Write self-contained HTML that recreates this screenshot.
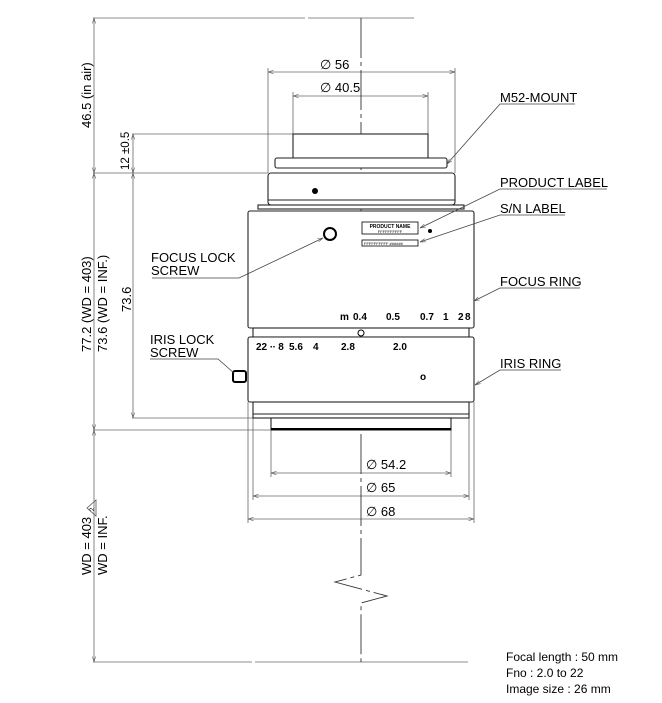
<!DOCTYPE html>
<html><head><style>
body{margin:0;background:#fff}
svg{display:block}
text{font-family:"Liberation Sans",Arial,sans-serif;fill:#000}
</style></head><body>
<svg width="662" height="703" viewBox="0 0 662 703" xmlns="http://www.w3.org/2000/svg">
<defs>
<marker id="a" viewBox="0 0 10 10" refX="10" refY="5" markerWidth="7" markerHeight="7" orient="auto-start-reverse"><path d="M0,2 L10,5 L0,8" fill="none" stroke="#555" stroke-width="1"/></marker>
</defs>
<g stroke="#666" stroke-width="0.8" fill="none">
<line x1="93" y1="18" x2="305" y2="18"/><line x1="308" y1="18" x2="414" y2="18"/>
<line x1="93" y1="662" x2="252" y2="662"/><line x1="255" y1="662" x2="468" y2="662"/>
<line x1="93" y1="173" x2="268" y2="173"/>
<line x1="93" y1="430" x2="270" y2="430"/>
<line x1="132" y1="134" x2="293" y2="134"/>
<line x1="132" y1="418" x2="253" y2="418"/>
<line x1="94" y1="18" x2="94" y2="173" marker-start="url(#a)" marker-end="url(#a)"/>
<line x1="94" y1="173" x2="94" y2="430" marker-start="url(#a)" marker-end="url(#a)"/>
<line x1="94" y1="430" x2="94" y2="662" marker-start="url(#a)" marker-end="url(#a)"/>
<line x1="133" y1="134" x2="133" y2="173" marker-start="url(#a)" marker-end="url(#a)"/>
<line x1="133" y1="173" x2="133" y2="418" marker-start="url(#a)" marker-end="url(#a)"/>
<line x1="268" y1="68" x2="268" y2="173"/><line x1="455" y1="68" x2="455" y2="173"/>
<line x1="293" y1="92" x2="293" y2="134"/><line x1="428" y1="92" x2="428" y2="134"/>
<line x1="271" y1="430" x2="271" y2="477"/><line x1="451" y1="430" x2="451" y2="477"/>
<line x1="253" y1="402" x2="253" y2="500"/><line x1="469" y1="402" x2="469" y2="500"/>
<line x1="248" y1="402" x2="248" y2="523"/><line x1="474" y1="402" x2="474" y2="523"/>
<line x1="268" y1="72" x2="455" y2="72" marker-start="url(#a)" marker-end="url(#a)"/>
<line x1="293" y1="96" x2="428" y2="96" marker-start="url(#a)" marker-end="url(#a)"/>
<line x1="271" y1="473" x2="451" y2="473" marker-start="url(#a)" marker-end="url(#a)"/>
<line x1="253" y1="496" x2="469" y2="496" marker-start="url(#a)" marker-end="url(#a)"/>
<line x1="248" y1="519" x2="474" y2="519" marker-start="url(#a)" marker-end="url(#a)"/>
</g>
<g stroke="#333" stroke-width="0.9" fill="none">
<path d="M361,18 V575 L335,582 L387,596 L361,603 V662" stroke-dasharray="40,4,4,4"/>
</g>
<g stroke="#222" stroke-width="1.1" fill="#fff">
<rect x="293" y="134" width="135" height="24"/>
<rect x="275" y="158" width="172" height="10" rx="2"/>
<rect x="268" y="173" width="187" height="32" rx="3"/>
<rect x="258" y="205" width="206" height="4"/>
<rect x="248" y="211" width="226" height="117" rx="2"/>
<rect x="253" y="328" width="216" height="9"/>
<rect x="248" y="337" width="226" height="65" rx="2"/>
<rect x="253" y="402" width="216" height="16"/>
<rect x="271" y="418" width="180" height="12"/>
</g>
<line x1="271" y1="429" x2="451" y2="429" stroke="#000" stroke-width="2"/>
<line x1="268" y1="200" x2="455" y2="200" stroke="#222"/>
<line x1="253" y1="414" x2="469" y2="414" stroke="#222"/>
<circle cx="315" cy="191" r="3" fill="#000"/>
<circle cx="330" cy="234" r="6" fill="#fff" stroke="#000" stroke-width="2"/>
<circle cx="361" cy="333" r="3" fill="#fff" stroke="#000"/>
<rect x="233" y="371" width="13" height="11" rx="2" fill="#fff" stroke="#000" stroke-width="2"/>
<rect x="362" y="222" width="56" height="12" fill="#fff" stroke="#000" stroke-width="0.8"/>
<rect x="362" y="240" width="56" height="6" fill="#fff" stroke="#000" stroke-width="0.8"/>
<text x="390" y="228" font-size="5" text-anchor="middle" font-weight="bold">PRODUCT NAME</text>
<text x="390" y="233" font-size="4" text-anchor="middle">FFFFFFFFFF</text>
<text x="364" y="245" font-size="4">FFFFFFFFFF  ######</text>
<circle cx="430" cy="231" r="2" fill="#000"/>
<g font-size="10" font-weight="bold">
<text x="340" y="320">m</text><text x="353" y="320">0.4</text><text x="386" y="320">0.5</text><text x="420" y="320">0.7</text><text x="443" y="320">1</text><text x="458" y="320">2</text><text x="465" y="320">8</text>
<text x="256" y="350">22 ∙∙ 8</text><text x="289" y="350">5.6</text><text x="313" y="350">4</text><text x="341" y="350">2.8</text><text x="393" y="350">2.0</text>
<text x="420" y="380">o</text>
</g>
<g stroke="#444" stroke-width="0.8" fill="none">
<path d="M575,104 H500 L447,164" marker-end="url(#a)"/>
<path d="M607,189 H500 L420,228" marker-end="url(#a)"/>
<path d="M565,215 H500 L420,242" marker-end="url(#a)"/>
<path d="M580,288 H500 L474,301" marker-end="url(#a)"/>
<path d="M561,370 H500 L475,385" marker-end="url(#a)"/>
<path d="M152,278 H239 L323,238" marker-end="url(#a)"/>
<path d="M150,359 H218 L234,373"/>
</g>
<g font-size="13">
<text x="500" y="102">M52-MOUNT</text>
<text x="500" y="187">PRODUCT LABEL</text>
<text x="500" y="213">S/N LABEL</text>
<text x="500" y="286">FOCUS RING</text>
<text x="500" y="368">IRIS RING</text>
<text x="151" y="262">FOCUS LOCK</text><text x="151" y="275">SCREW</text>
<text x="150" y="344">IRIS LOCK</text><text x="150" y="357">SCREW</text>
<text x="320" y="69">∅ 56</text>
<text x="320" y="92">∅ 40.5</text>
<text x="366" y="469">∅ 54.2</text>
<text x="366" y="492">∅ 65</text>
<text x="366" y="516">∅ 68</text>
<text x="506" y="661" font-size="12">Focal length : 50 mm</text>
<text x="506" y="677" font-size="12">Fno : 2.0 to 22</text>
<text x="506" y="693" font-size="12">Image size : 26 mm</text>
</g>
<g font-size="13">
<text transform="translate(91,128) rotate(-90)">46.5 (in air)</text>
<text transform="translate(129,170) rotate(-90)" font-size="11.5">12 ±0.5</text>
<text transform="translate(91,352) rotate(-90)">77.2 (WD = 403)</text>
<text transform="translate(107,352) rotate(-90)">73.6 (WD = INF.)</text>
<text transform="translate(131,312) rotate(-90)">73.6</text>
<text transform="translate(91,575) rotate(-90)">WD = 403</text>
<text transform="translate(107,575) rotate(-90)">WD = INF.</text>
</g>
<path d="M87,508 L96,500 L96,516 Z" fill="none" stroke="#555" stroke-width="0.8"/>
<text transform="translate(94,511) rotate(-90)" font-size="6">2</text>
</svg>
</body></html>
